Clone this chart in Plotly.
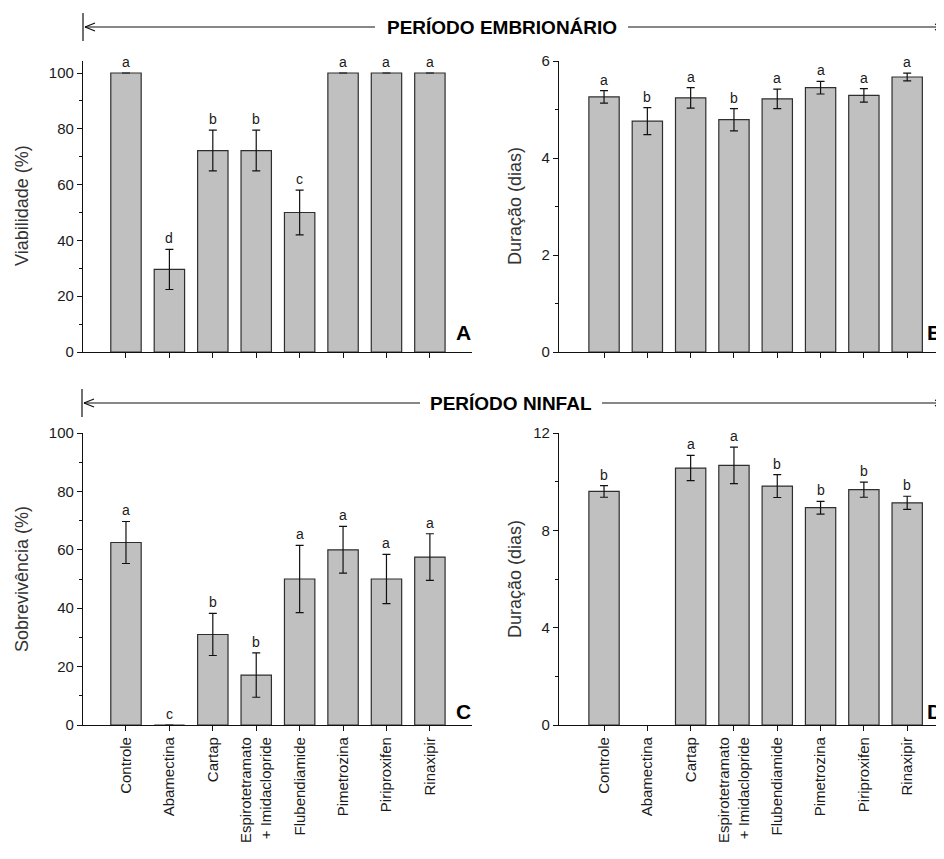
import plotly.graph_objects as go

# Page body has an 8px margin, so the figure is sized to fill the rest of the 944x859 window
OFF = 8
W, H = 944 - OFF, 859 - OFF

categories = ["Controle", "Abamectina", "Cartap", "Espirotetramato<br>+ Imidaclopride",
              "Flubendiamide", "Pimetrozina", "Piriproxifen", "Rinaxipir"]

# Panel A - viabilidade embrionária (%)
viab = [100, 29.6, 72.2, 72.2, 50.0, 100, 100, 100]
viab_err = [0, 7.2, 7.3, 7.3, 8.0, 0, 0, 0]
viab_letters = ["a", "d", "b", "b", "c", "a", "a", "a"]

# Panel B - duração período embrionário (dias)
emb_dur = [5.26, 4.76, 5.24, 4.79, 5.22, 5.45, 5.29, 5.67]
emb_err = [0.13, 0.28, 0.21, 0.23, 0.20, 0.13, 0.14, 0.08]
emb_letters = ["a", "b", "a", "b", "a", "a", "a", "a"]

# Panel C - sobrevivência ninfal (%)
surv = [62.5, 0, 31.0, 17.1, 50.0, 60.0, 50.0, 57.5]
surv_err = [7.2, 0, 7.2, 7.6, 11.5, 8.0, 8.4, 8.0]
surv_letters = ["a", "c", "b", "b", "a", "a", "a", "a"]

# Panel D - duração período ninfal (dias)
ninf_dur = [9.60, None, 10.56, 10.67, 9.82, 8.93, 9.67, 9.13]
ninf_err = [0.24, None, 0.52, 0.75, 0.47, 0.26, 0.31, 0.27]
ninf_letters = ["b", "", "a", "a", "b", "b", "b", "b"]

y_titles = ["Viabilidade (%)", "Duração (dias)", "Sobrevivência (%)", "Duração (dias)"]
panel_labels = ["A", "B", "C", "D"]

xpos = list(range(len(categories)))

def px(x):
    return (x - OFF) / W

def py(y):
    return 1 - (y - OFF) / H

FONT = "Liberation Sans, Arial, sans-serif"
TXT = "#1a1a1a"
BAR_FILL = "#c0c0c0"
BAR_LINE = "#2e2e2e"

fig = go.Figure()

panels = [
    ("x", "y", viab, viab_err, viab_letters),
    ("x2", "y2", emb_dur, emb_err, emb_letters),
    ("x3", "y3", surv, surv_err, surv_letters),
    ("x4", "y4", ninf_dur, ninf_err, ninf_letters),
]

for xa, ya, vals, errs, letters in panels:
    fig.add_trace(go.Bar(
        x=xpos, y=vals, xaxis=xa, yaxis=ya, width=0.7,
        marker=dict(color=BAR_FILL, line=dict(color=BAR_LINE, width=1.2)),
        error_y=dict(type="data", array=[e if e else 0 for e in errs], visible=True,
                     color="#111111", thickness=1.2, width=4),
        showlegend=False, hoverinfo="skip",
    ))
    for i, (v, e, l) in enumerate(zip(vals, errs, letters)):
        if not l:
            continue
        top = (v or 0) + (e or 0)
        fig.add_annotation(x=i, y=top, xref=xa, yref=ya, text=l, showarrow=False,
                           yanchor="bottom", yshift=1,
                           font=dict(family=FONT, size=14, color=TXT))

tickfont = dict(family=FONT, size=15, color=TXT)
titlefont = dict(family=FONT, size=18, color="#333333")

xdom_left = [px(83), px(472)]
xdom_right = [px(559), 1.0]
ydom_top = [py(352), py(61)]
ydom_bot = [py(725), py(433)]

def xaxis(dom, rng, anchor, labels):
    d = dict(domain=dom, range=rng, anchor=anchor, showline=True, linecolor="#111111",
             linewidth=1.2, ticks="outside", ticklen=5, tickcolor="#111111",
             tickvals=xpos, showgrid=False, zeroline=False, fixedrange=True,
             automargin=False)
    if labels:
        d.update(ticktext=categories, tickangle=-90, tickfont=tickfont)
    else:
        d.update(ticktext=[""] * len(categories), showticklabels=False)
    return d

def yaxis(dom, rng, anchor, dtick):
    return dict(domain=dom, range=rng, anchor=anchor, showline=True, linecolor="#111111",
                linewidth=1.2, ticks="outside", ticklen=5, tickcolor="#111111",
                dtick=dtick, tick0=0, tickfont=tickfont, showgrid=False, zeroline=False,
                minor=dict(ticks="outside", ticklen=3, dtick=dtick / 2, tick0=0,
                           tickcolor="#111111", showgrid=False),
                fixedrange=True, automargin=False)

fig.update_layout(
    width=W, height=H,
    margin=dict(l=0, r=0, t=0, b=0, autoexpand=False),
    paper_bgcolor="white", plot_bgcolor="white",
    xaxis=xaxis(xdom_left, [-0.99, 7.97], "y", False),
    xaxis2=xaxis(xdom_right, [-1.04, 7.85], "y2", False),
    xaxis3=xaxis(xdom_left, [-0.99, 7.97], "y3", True),
    xaxis4=xaxis(xdom_right, [-1.04, 7.85], "y4", True),
    yaxis=yaxis(ydom_top, [0, 104.3], "x", 20),
    yaxis2=yaxis(ydom_top, [0, 6], "x2", 2),
    yaxis3=yaxis(ydom_bot, [0, 100], "x3", 20),
    yaxis4=yaxis(ydom_bot, [0, 12], "x4", 4),
)

# Y-axis titles
for title, (x, y) in zip(y_titles, [(22, 206), (515, 206), (22, 579), (515, 579)]):
    fig.add_annotation(x=px(x), y=py(y), xref="paper", yref="paper", text=title,
                       textangle=-90, showarrow=False, xanchor="center", yanchor="middle",
                       font=titlefont)

# Panel letters
for lab, (x, y) in zip(panel_labels, [(463, 332), (934, 332), (463, 711), (934, 711)]):
    fig.add_annotation(x=px(x), y=py(y), xref="paper", yref="paper", text="<b>%s</b>" % lab,
                       showarrow=False, xanchor="center", yanchor="middle",
                       font=dict(family=FONT, size=21, color="#000000"))

# Period headers with arrows
def header(text, ymid, x_left, x_text_l, x_text_r, x_right):
    line = dict(color="#111111", width=1.2)
    segs = [
        (x_left, ymid - 14, x_left, ymid + 14),
        (x_left + 2, ymid, x_text_l - 2, ymid),
        (x_left + 2, ymid, x_left + 12, ymid - 4),
        (x_left + 2, ymid, x_left + 12, ymid + 4),
        (x_text_r + 2, ymid, x_right, ymid),
        (x_right, ymid, x_right - 6, ymid - 3),
        (x_right, ymid, x_right - 6, ymid + 3),
    ]
    for x0, y0, x1, y1 in segs:
        fig.add_shape(type="line", xref="paper", yref="paper",
                      x0=px(x0), y0=py(y0), x1=px(x1), y1=py(y1), line=line)
    fig.add_annotation(x=px((x_text_l + x_text_r) / 2), y=py(ymid), xref="paper", yref="paper",
                       text="<b>%s</b>" % text, showarrow=False, xanchor="center", yanchor="middle",
                       font=dict(family=FONT, size=19, color="#000000"))

header("PERÍODO EMBRIONÁRIO", 27, 83, 377, 626, 941)
header("PERÍODO NINFAL", 403, 82, 422, 600, 941)

fig.write_html("out.html")
